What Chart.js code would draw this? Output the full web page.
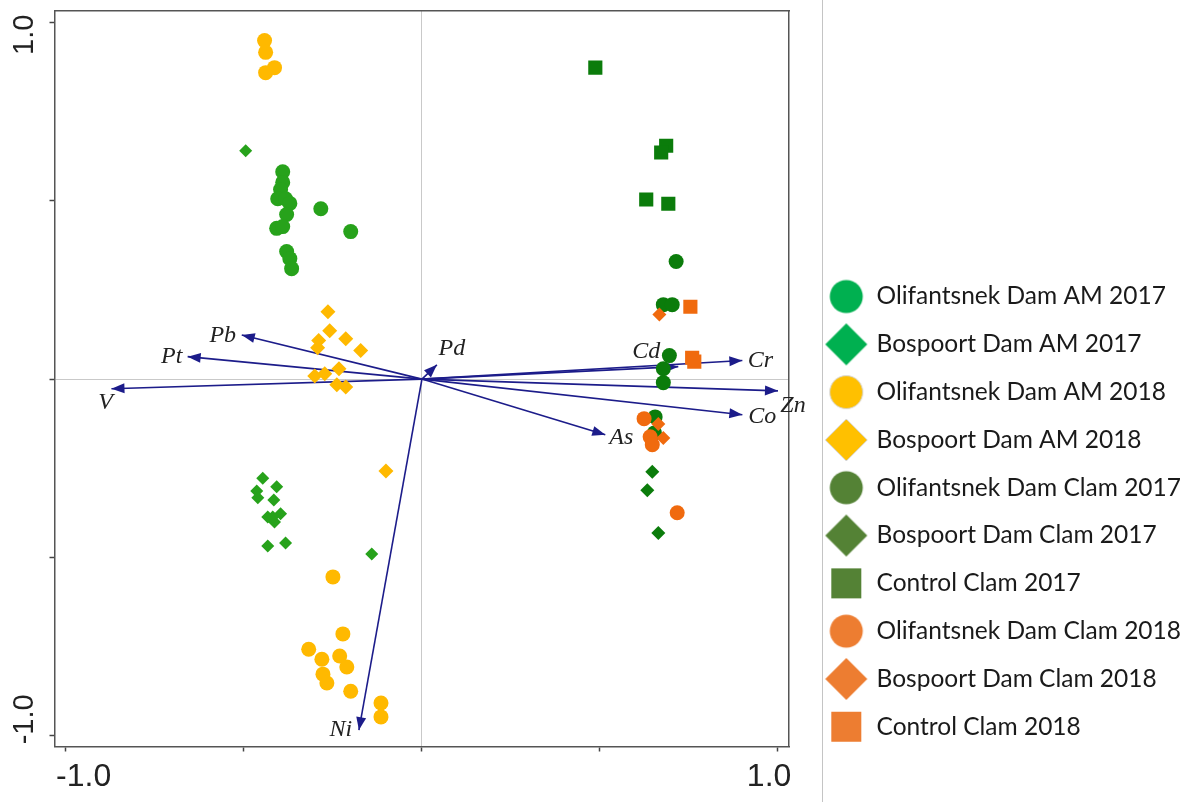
<!DOCTYPE html>
<html>
<head>
<meta charset="utf-8">
<script src="https://cdn.jsdelivr.net/npm/chart.js@4"></script>
<style>
  html, body { margin: 0; padding: 0; background: #fff; }
</style>
</head>
<body>
<canvas id="rdaChart" width="1188" height="802"></canvas>
<script>
// series names (legend order)
var seriesNames = [
  'Olifantsnek Dam AM 2017', 'Bospoort Dam AM 2017',
  'Olifantsnek Dam AM 2018', 'Bospoort Dam AM 2018',
  'Olifantsnek Dam Clam 2017', 'Bospoort Dam Clam 2017', 'Control Clam 2017',
  'Olifantsnek Dam Clam 2018', 'Bospoort Dam Clam 2018', 'Control Clam 2018'
];

// sample scores [axis1, axis2]
var olifantsnekAM2017 = [[-0.391, 0.582], [-0.391, 0.552], [-0.397, 0.532], [-0.405, 0.506], [-0.383, 0.506],
  [-0.371, 0.493], [-0.380, 0.462], [-0.408, 0.423], [-0.391, 0.428], [-0.380, 0.358], [-0.371, 0.338],
  [-0.366, 0.310], [-0.284, 0.478], [-0.200, 0.414]];
var bospoortAM2017 = [[-0.495, 0.641], [-0.447, -0.278], [-0.408, -0.302], [-0.464, -0.314], [-0.461, -0.333],
  [-0.416, -0.339], [-0.433, -0.387], [-0.397, -0.378], [-0.414, -0.401], [-0.419, -0.387], [-0.433, -0.468],
  [-0.383, -0.460], [-0.141, -0.491]];
var olifantsnekAM2018 = [[-0.442, 0.950], [-0.439, 0.917], [-0.414, 0.874], [-0.439, 0.860], [-0.250, -0.555],
  [-0.222, -0.715], [-0.318, -0.758], [-0.281, -0.786], [-0.231, -0.777], [-0.211, -0.808], [-0.278, -0.828],
  [-0.267, -0.853], [-0.200, -0.876], [-0.115, -0.909], [-0.115, -0.948]];
var bospoortAM2018 = [[-0.264, 0.189], [-0.259, 0.136], [-0.290, 0.108], [-0.293, 0.088], [-0.214, 0.113],
  [-0.172, 0.080], [-0.301, 0.009], [-0.273, 0.015], [-0.233, 0.029], [-0.239, -0.016], [-0.214, -0.022],
  [-0.101, -0.258]];
var olifantsnekClam2017 = [[0.714, 0.330], [0.678, 0.209], [0.703, 0.209], [0.695, 0.066], [0.678, 0.029],
  [0.678, -0.010], [0.655, -0.106], [0.653, -0.151]];
var bospoortClam2017 = [[0.647, -0.260], [0.633, -0.312], [0.664, -0.432]];
var controlClam2017 = [[0.487, 0.874], [0.686, 0.655], [0.672, 0.636], [0.630, 0.504], [0.692, 0.492]];
var olifantsnekClam2018 = [[0.624, -0.111], [0.641, -0.162], [0.647, -0.184], [0.717, -0.375]];
var bospoortClam2018 = [[0.667, 0.181], [0.664, -0.126], [0.678, -0.165]];
var controlClam2018 = [[0.754, 0.203], [0.759, 0.060], [0.765, 0.049]];

var seriesData = [olifantsnekAM2017, bospoortAM2017, olifantsnekAM2018, bospoortAM2018,
  olifantsnekClam2017, bospoortClam2017, controlClam2017,
  olifantsnekClam2018, bospoortClam2018, controlClam2018];

// environmental variable vectors
var envNames = ['Pb', 'Pt', 'V', 'Pd', 'Cd', 'Cr', 'Zn', 'Co', 'As', 'Ni'];
var envX = [-0.506, -0.658, -0.872, 0.042, 0.720, 0.900, 1.000, 0.900, 0.515, -0.177];
var envY = [0.124, 0.063, -0.027, 0.040, 0.035, 0.052, -0.033, -0.100, -0.156, -0.985];

// axis ticks
var axisTicks = [-1, -0.5, 0, 0.5, 1];
var axisTickText = ['-1.0', '', '', '', '1.0'];

// ---- styling ----
var markerStyle = [
  {color: '#27a21b', shape: 'circle', r: 7.5, legend: '#00b050'},
  {color: '#27a21b', shape: 'rectRot', r: 6.5, legend: '#00b050'},
  {color: '#ffb900', shape: 'circle', r: 7.5, legend: '#ffc000'},
  {color: '#ffb900', shape: 'rectRot', r: 7.5, legend: '#ffc000'},
  {color: '#0b7c0b', shape: 'circle', r: 7.5, legend: '#548235'},
  {color: '#0b7c0b', shape: 'rectRot', r: 7, legend: '#548235'},
  {color: '#0b7c0b', shape: 'rect', r: 10, legend: '#548235'},
  {color: '#f06a0e', shape: 'circle', r: 7.5, legend: '#ed7d31'},
  {color: '#f06a0e', shape: 'rectRot', r: 7, legend: '#ed7d31'},
  {color: '#f06a0e', shape: 'rect', r: 10, legend: '#ed7d31'}
];
// label centre offset from arrow tip, px
var envLabelShift = [[-19, 1], [-16, 0], [-6, 14], [15, -16], [-32, -15], [18, 0], [15, 15], [20, 2], [16, 3], [-18, 0]];
var arrowColor = '#1c1c8a';
var X_MIN = -1.032, X_MAX = 1.031, Y_MIN = -1.031, Y_MAX = 1.033;

function legendIcon(shape, color, outline) {
  var size = shape === 'rectRot' ? 44 : (shape === 'rect' ? 32 : 36);
  var c = document.createElement('canvas');
  c.width = size; c.height = size;
  var g = c.getContext('2d');
  var m = size / 2;
  g.fillStyle = color;
  g.beginPath();
  if (shape === 'circle') {
    g.arc(m, m, 16.5, 0, Math.PI * 2);
  } else if (shape === 'rectRot') {
    g.moveTo(m, 1); g.lineTo(size - 1, m); g.lineTo(m, size - 1); g.lineTo(1, m); g.closePath();
  } else {
    g.rect(1, 1, 30, 30);
  }
  g.fill();
  if (outline) { g.strokeStyle = '#d4d4d4'; g.lineWidth = 1; g.stroke(); }
  return c;
}
var legendIcons = markerStyle.map(function (s, i) {
  return legendIcon(s.shape, s.legend, i === 2 || i === 3);
});

var datasets = seriesData.map(function (pairs, i) {
  var s = markerStyle[i];
  return {
    label: seriesNames[i],
    data: pairs.map(function (p) { return {x: p[0], y: p[1]}; }),
    pointStyle: s.shape,
    pointRadius: s.r,
    backgroundColor: s.color,
    borderColor: s.color,
    borderWidth: 0,
    order: 20 - i
  };
});
envNames.forEach(function (name, i) {
  datasets.push({
    label: name,
    isArrow: true,
    data: [{x: 0, y: 0}, {x: envX[i], y: envY[i]}],
    showLine: true,
    pointRadius: 0,
    borderColor: arrowColor,
    borderWidth: 1.6,
    order: 100
  });
});

function zeroLine(c) {
  return c.tick && c.tick.value === 0 ? '#c9c9c9' : 'rgba(0,0,0,0)';
}
function useTicks(scale) {
  scale.ticks = axisTicks.map(function (v) { return {value: v}; });
}

var arrowPlugin = {
  id: 'envArrows',
  afterDatasetDraw: function (chart, args) {
    var ds = chart.data.datasets[args.index];
    if (!ds.isArrow) return;
    var p0 = args.meta.data[0], p1 = args.meta.data[1];
    var a = Math.atan2(p1.y - p0.y, p1.x - p0.x);
    var c = chart.ctx, len = 13, hw = 5;
    c.save();
    c.fillStyle = arrowColor;
    c.beginPath();
    c.moveTo(p1.x, p1.y);
    c.lineTo(p1.x - len * Math.cos(a) + hw * Math.sin(a), p1.y - len * Math.sin(a) - hw * Math.cos(a));
    c.lineTo(p1.x - len * Math.cos(a) - hw * Math.sin(a), p1.y - len * Math.sin(a) + hw * Math.cos(a));
    c.closePath();
    c.fill();
    c.restore();
  },
  afterDatasetsDraw: function (chart) {
    var c = chart.ctx, xs = chart.scales.x, ys = chart.scales.y;
    c.save();
    c.font = 'italic 24px "Liberation Serif", "Times New Roman", serif';
    c.fillStyle = '#222';
    c.textAlign = 'center';
    c.textBaseline = 'middle';
    envNames.forEach(function (name, i) {
      c.fillText(name, xs.getPixelForValue(envX[i]) + envLabelShift[i][0], ys.getPixelForValue(envY[i]) + envLabelShift[i][1]);
    });
    c.restore();
  },
  afterDraw: function (chart) {
    var c = chart.ctx, lx = Math.round(chart.legend.left + 17) + 0.5;
    c.save();
    c.strokeStyle = '#c4c4c4';
    c.lineWidth = 1;
    c.beginPath();
    c.moveTo(lx, 0);
    c.lineTo(lx, chart.height);
    c.stroke();
    c.restore();
  }
};

var ctx = document.getElementById('rdaChart').getContext('2d');
var rdaChart = new Chart(ctx, {
  type: 'scatter',
  data: { datasets: datasets },
  plugins: [arrowPlugin],
  options: {
    responsive: false,
    animation: false,
    events: [],
    layout: { padding: 0 },
    plugins: {
      tooltip: { enabled: false },
      legend: {
        position: 'right',
        align: 'start',
        maxWidth: 383,
        title: { display: true, text: '', font: { size: 10 }, padding: { top: 249, bottom: 0 } },
        labels: {
          usePointStyle: true,
          pointStyleWidth: 36,
          padding: 23.3,
          color: '#1a1a1a',
          font: { family: 'Lato, "Open Sans", sans-serif', size: 24.5 },
          generateLabels: function () {
            return seriesNames.map(function (name, i) {
              return {
                text: name,
                pointStyle: legendIcons[i],
                fillStyle: markerStyle[i].legend,
                strokeStyle: markerStyle[i].legend,
                lineWidth: 0,
                fontColor: '#1a1a1a',
                hidden: false,
                datasetIndex: i
              };
            });
          }
        }
      }
    },
    scales: {
      x: {
        type: 'linear',
        position: 'bottom',
        min: X_MIN,
        max: X_MAX,
        afterBuildTicks: useTicks,
        afterFit: function (s) { s.height = 55.5; },
        ticks: {
          autoSkip: false,
          minRotation: 0,
          maxRotation: 0,
          padding: 6,
          color: '#222',
          font: { family: '"Liberation Sans", Arial, sans-serif', size: 32 },
          callback: function (v) {
            var t = axisTickText[axisTicks.indexOf(v)] || '';
            if (v < 0 && t) return '    ' + t;
            if (v > 0 && t) return t + '  ';
            return t;
          }
        },
        grid: { color: zeroLine, lineWidth: 1, tickLength: 5, tickColor: '#444', tickWidth: 1.5 },
        border: { display: true, color: '#555', width: 1.5 }
      },
      y: {
        type: 'linear',
        position: 'left',
        min: Y_MIN,
        max: Y_MAX,
        afterBuildTicks: useTicks,
        afterFit: function (s) { s.width = 54.5; },
        ticks: {
          autoSkip: false,
          minRotation: 90,
          maxRotation: 90,
          crossAlign: 'center',
          padding: -16.6,
          color: '#222',
          font: { family: '"Liberation Sans", Arial, sans-serif', size: 29 },
          callback: function (v) {
            var t = axisTickText[axisTicks.indexOf(v)] || '';
            if (v < 0 && t) return '    ' + t;
            if (v > 0 && t) return t + '   ';
            return t;
          }
        },
        grid: { color: zeroLine, lineWidth: 1, tickLength: 5, tickColor: '#444', tickWidth: 1.5 },
        border: { display: true, color: '#555', width: 1.5 }
      },
      x2: {
        type: 'linear',
        position: 'top',
        display: true,
        min: X_MIN,
        max: X_MAX,
        afterFit: function (s) { s.height = 11; },
        ticks: { display: false },
        grid: { display: false, drawTicks: false },
        border: { display: true, color: '#555', width: 1.5 }
      },
      y2: {
        type: 'linear',
        position: 'right',
        display: true,
        min: Y_MIN,
        max: Y_MAX,
        afterFit: function (s) { s.width = 16; },
        ticks: { display: false },
        grid: { display: false, drawTicks: false },
        border: { display: true, color: '#555', width: 1.5 }
      }
    }
  }
});
</script>
</body>
</html>
